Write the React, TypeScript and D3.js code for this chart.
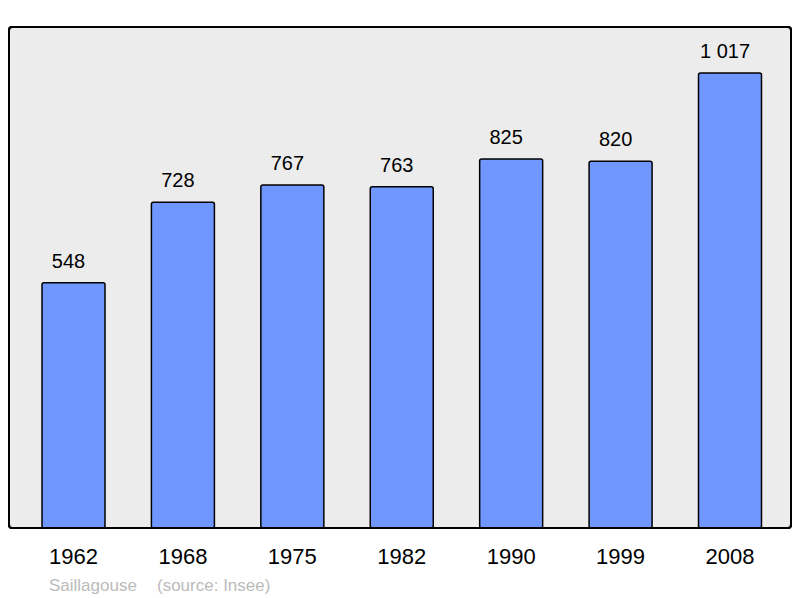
import React from "react";
import * as d3 from "d3";

const years = ["1962", "1968", "1975", "1982", "1990", "1999", "2008"];
const population = [548, 728, 767, 763, 825, 820, 1017];
const valueLabels = ["548", "728", "767", "763", "825", "820", "1 017"];
const commune = "Saillagouse";
const source = "(source: Insee)";

const W = 800;
const H = 598;

export default function App() {
  const x = d3.scalePoint<string>().domain(years).range([73.5, 730]);
  const y = d3.scaleLinear().domain([0, 1120]).range([528, 27]);
  const barW = 63;
  const font = "'Liberation Sans', Arial, sans-serif";

  return (
    <svg
      width={W}
      height={H}
      style={{ position: "absolute", left: 0, top: 0, display: "block" }}
    >
      <rect x={0} y={0} width={W} height={H} fill="#ffffff" />
      <rect
        x={9}
        y={27}
        width={782}
        height={501}
        rx={3}
        fill="#ececec"
        stroke="#000"
        strokeWidth={2}
      />
      {years.map((yr, i) => {
        const cx = x(yr) as number;
        const top = y(population[i]);
        return (
          <g key={yr}>
            <rect
              x={cx - barW / 2}
              y={top}
              width={barW}
              height={y(0) - top}
              rx={2}
              fill="#7097ff"
              stroke="#000"
              strokeWidth={1.5}
            />
            <text
              x={cx - 5}
              y={top - 15}
              textAnchor="middle"
              fontFamily={font}
              fontSize={20}
              fill="#000"
            >
              {valueLabels[i]}
            </text>
            <text
              x={cx}
              y={564}
              textAnchor="middle"
              fontFamily={font}
              fontSize={22}
              fill="#000"
            >
              {yr}
            </text>
          </g>
        );
      })}
      <rect x={9} y={27} width={782} height={501} rx={3} fill="none" stroke="#000" strokeWidth={2} />
      <text x={49} y={591} fontFamily={font} fontSize={17} fill="#bbbbbb">
        {commune}
      </text>
      <text x={157} y={591} fontFamily={font} fontSize={17} fill="#bbbbbb">
        {source}
      </text>
    </svg>
  );
}
